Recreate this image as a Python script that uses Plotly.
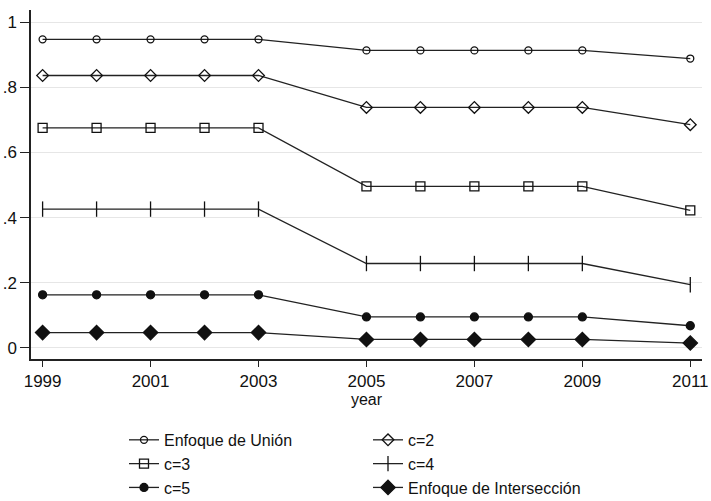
import plotly.graph_objects as go

years = [1999, 2000, 2001, 2002, 2003, 2005, 2006, 2007, 2008, 2009, 2011]

union = [0.947, 0.947, 0.947, 0.947, 0.947, 0.913, 0.913, 0.913, 0.913, 0.913, 0.888]
c2 = [0.836, 0.836, 0.836, 0.836, 0.836, 0.738, 0.738, 0.738, 0.738, 0.738, 0.685]
c3 = [0.675, 0.675, 0.675, 0.675, 0.675, 0.496, 0.496, 0.496, 0.496, 0.496, 0.422]
c4 = [0.426, 0.426, 0.426, 0.426, 0.426, 0.259, 0.259, 0.259, 0.259, 0.259, 0.194]
c5 = [0.163, 0.163, 0.163, 0.163, 0.163, 0.095, 0.095, 0.095, 0.095, 0.095, 0.068]
inter = [0.047, 0.047, 0.047, 0.047, 0.047, 0.026, 0.026, 0.026, 0.026, 0.026, 0.015]

names = ["Enfoque de Unión", "c=2", "c=3", "c=4", "c=5", "Enfoque de Intersección"]
series = [union, c2, c3, c4, c5, inter]
symbols = ["circle-open", "diamond-open", "square-open", "line-ns-open", "circle", "diamond"]
sizes = [7, 9, 9, 11, 8, 11]

y_tickvals = [0, 0.2, 0.4, 0.6, 0.8, 1]
y_ticktext = ["0", ".2", ".4", ".6", ".8", "1"]
x_tickvals = [1999, 2001, 2003, 2005, 2007, 2009, 2011]

FONT = "Liberation Sans, Arial, sans-serif"

fig = go.Figure()
for name, vals, sym, sz in zip(names, series, symbols, sizes):
    fig.add_trace(go.Scatter(
        x=years, y=vals, name=name, mode="lines+markers",
        line=dict(color="#222222", width=1.3),
        marker=dict(symbol=sym, size=sz, color="#111111",
                    line=dict(color="#111111", width=1.3)),
    ))

fig.update_layout(
    width=711, height=501,
    margin=dict(l=31, r=9, t=10, b=142),
    plot_bgcolor="white", paper_bgcolor="white",
    font=dict(family=FONT, size=17, color="#111111"),
    showlegend=True,
    legend=dict(
        orientation="h", xref="paper", x=0.1386, xanchor="left",
        yref="container", y=0.074, yanchor="middle",
        entrywidth=199, entrywidthmode="pixels",
        font=dict(family=FONT, size=16, color="#111111"),
        itemwidth=30, tracegroupgap=0, borderwidth=0,
    ),
    xaxis=dict(
        range=[1998.785, 2011.217], tickmode="array", tickvals=x_tickvals,
        ticks="outside", ticklen=6, tickcolor="#222222", tickwidth=1.3,
        showline=True, linecolor="#222222", linewidth=1.5,
        showgrid=False, zeroline=False,
        title=dict(text="year", font=dict(size=16), standoff=2),
        tickfont=dict(size=17), automargin=False,
        ticklabeloverflow="allow",
    ),
    yaxis=dict(
        range=[-0.034, 1.037], tickmode="array", tickvals=y_tickvals,
        ticktext=y_ticktext,
        ticks="outside", ticklen=9, tickcolor="#222222", tickwidth=1.3,
        showline=True, linecolor="#222222", linewidth=1.5,
        showgrid=True, gridcolor="#e6e6e6", gridwidth=1, zeroline=False,
        tickfont=dict(size=17), automargin=False,
    ),
)

fig.write_html("out.html", config={"displayModeBar": False},
               post_script="document.body.style.margin='0';")
